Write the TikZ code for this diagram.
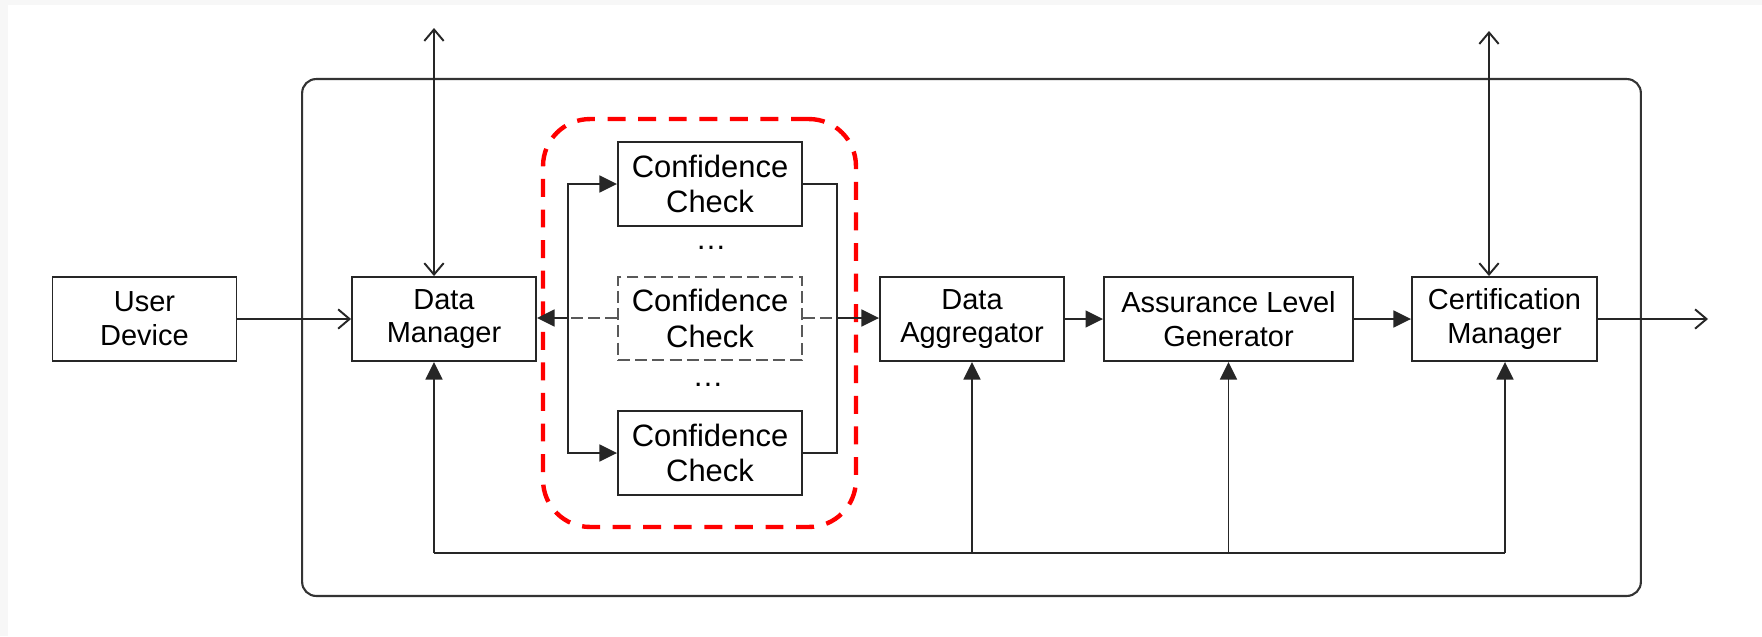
\documentclass[tikz,border=0pt]{standalone}
\usepackage{fontspec}
\setmainfont{Liberation Sans}
\usetikzlibrary{arrows.meta}
\begin{document}
\begin{tikzpicture}[x=0.02cm,y=-0.02cm,
  box/.style={draw=black!85, line width=1.1pt, inner sep=0pt, minimum width=3.68cm, minimum height=1.68cm, align=center, font=\fontsize{16.5}{19.3}\selectfont},
  ccbox/.style={box, font=\fontsize{17.6}{20.4}\selectfont},
  ghostbox/.style={ccbox, draw=black!65, dash pattern=on 6.8pt off 3pt},
  conn/.style={draw=black!85, line width=1.1pt},
  tri/.style={conn, -{Triangle[length=10pt,width=9.6pt]}},
  barb/.style={conn, -{Straight Barb[length=6.5pt,width=11pt]}},
  dbarb/.style={conn, {Straight Barb[length=6.5pt,width=11pt]}-{Straight Barb[length=6.5pt,width=11pt]}},
  ghostline/.style={draw=black!65, line width=1.1pt, dash pattern=on 6.8pt off 3pt},
  dots/.style={inner sep=0pt, font=\fontsize{17.6}{20.4}\selectfont},
]
% background and frame
\fill[black!3] (0,0) rectangle (1762,636);
\fill[white] (8,5) rectangle (1762,636);
\useasboundingbox (0,0) rectangle (1762,636);

% outer system box and red group
\node[draw=black!80, line width=1.2pt, rounded corners=0.28cm, minimum width=26.78cm, minimum height=10.34cm, inner sep=0pt] (outer) at (971.5,337.5) {};
\node[draw=red, line width=2.5pt, dash pattern=on 10.2pt off 7.2pt, rounded corners=0.94cm, minimum width=6.26cm, minimum height=8.16cm, inner sep=0pt] (group) at (699.5,323) {};

% nodes
\node[box] (ud) at (144.5,319) {User\\Device};
\node[box] (dm) at (444,319) {Data\\Manager};
\node[ccbox] (cc1) at (710,184) {Confidence\\Check};
\node[ghostbox, minimum height=1.66cm] (cc2) at (710,318.5) {Confidence\\Check};
\node[ccbox] (cc3) at (710,453) {Confidence\\Check};
\node[dots] (d1) at (711,248) {…};
\node[dots] (d2) at (708,385) {…};
\node[box] (da) at (972,319) {Data\\Aggregator};
\node[box, minimum width=4.98cm] (alg) at (1228.5,319) {Assurance Level\\Generator};
\node[box, minimum width=3.7cm] (cm) at (1504.5,319) {Certification\\Manager};

% free ends and junctions
\coordinate (dmout) at (434,28);
\coordinate (cmout) at (1489,31);
\coordinate (out) at (1708,319);
\coordinate (bl) at (568,318);
\coordinate (br) at (837,318);
\coordinate (fbL) at (434,553);
\coordinate (fbR) at (1505,553);

% main flow
\draw[barb] (ud.east) -- (dm.west);
\draw[dbarb] (dmout) -- (dmout |- dm.north);
\draw[dbarb] (cmout) -- (cmout |- cm.north);
\draw[barb] (cm.east) -- (out);

% fan-out to confidence checks
\draw[tri] (bl) |- (cc1.west);
\draw[tri] (bl) |- (cc3.west);
\draw[tri] (bl) -- (dm.east |- bl);
\draw[ghostline] (cc2.west |- bl) -- (bl);

% fan-in
\draw[conn] (cc1.east) -| (br);
\draw[conn] (cc3.east) -| (br);
\draw[ghostline] (cc2.east |- br) -- (br);
\draw[tri] (br) -- (da.west |- br);

\draw[tri] (da.east) -- (alg.west);
\draw[tri] (alg.east) -- (cm.west);

% feedback bus
\draw[conn] (fbL) -- (fbR);
\draw[tri] (fbL) -- (fbL |- dm.south);
\draw[tri] (da.south |- fbL) -- (da.south);
\draw[tri] (alg.south |- fbL) -- (alg.south);
\draw[tri] (fbR) -- (fbR |- cm.south);
\end{tikzpicture}
\end{document}
